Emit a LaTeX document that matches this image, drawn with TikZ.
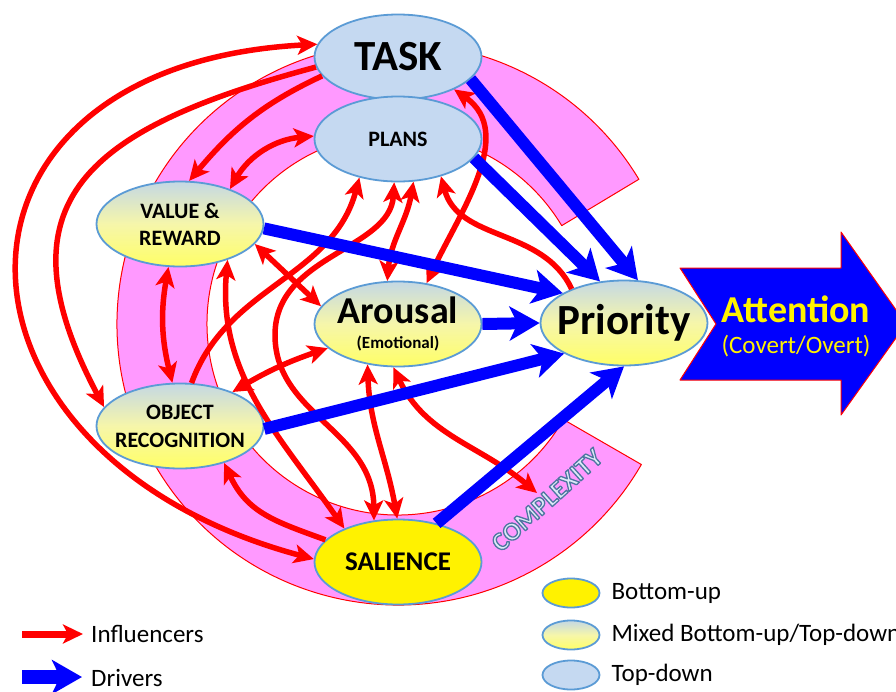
\documentclass[tikz,border=0pt]{standalone}
\usepackage{fontspec}
\setmainfont{Carlito}
\usetikzlibrary{arrows.meta,calc,positioning,shapes.geometric}

\definecolor{bandpink}{RGB}{255,153,255}
\definecolor{drvblue}{RGB}{0,0,255}
\definecolor{inflred}{RGB}{255,0,0}
\definecolor{tdblue}{RGB}{197,217,241}
\definecolor{rimblue}{RGB}{91,155,213}
\definecolor{mixtop}{RGB}{196,216,228}
\definecolor{mixmid}{RGB}{246,246,170}
\definecolor{mixbot}{RGB}{255,255,102}
\definecolor{cplxfill}{RGB}{221,234,247}
\definecolor{cplxrim}{RGB}{80,118,160}

\tikzset{
  redtip/.tip={Stealth[length=20pt,width=19pt,inset=5pt]},
  bluetip/.tip={Stealth[length=30pt,width=34pt,inset=8pt]},
  infl/.style={draw=inflred, line width=5.5pt, -redtip},
  infl2/.style={draw=inflred, line width=5.5pt, redtip-redtip},
  drv/.style={draw=drvblue, line width=12pt, -bluetip},
  stage/.style={ellipse, draw=rimblue, line width=1.8pt, minimum width=167pt,
    minimum height=85pt, inner sep=-12pt, align=center},
  topdown/.style={stage, fill=tdblue},
  bottomup/.style={stage, fill=yellow},
  mixed/.style={stage, top color=mixtop, bottom color=mixbot, middle color=mixmid},
  legtxt/.style={inner sep=0pt, font=\fontsize{25}{25}\selectfont}
}

\begin{document}
\begin{tikzpicture}[x=1pt, y=1pt, line join=round]
  \useasboundingbox (0,0) rectangle (896,-691);
  \clip (0,0) rectangle (896,-691);
  \fill[white] (0,0) rectangle (896,-691);

  % --- complexity band ---
  \coordinate (bc) at (398,-324);
  \filldraw[fill=bandpink, draw=inflred, line width=1pt]
    ($(bc)+(31:281pt)$) arc[start angle=31, end angle=330, radius=281pt]
    -- ($(bc)+(330:191pt)$) arc[start angle=330, end angle=31, radius=191pt] -- cycle;
  \coordinate (cplx) at (537,-493);

  % --- stages ---
  \node[topdown, font=\bfseries\fontsize{43}{43}\selectfont] (task) at (398,-57) {TASK};
  \node[topdown, font=\bfseries\fontsize{22}{22}\selectfont] (plans) at (398,-139) {PLANS};
  \node[mixed, font=\bfseries\fontsize{22}{27}\selectfont] (value) at (180,-224) {VALUE \&\\REWARD};
  \node[mixed, font=\bfseries\fontsize{22}{28}\selectfont] (objrec) at (180,-426) {OBJECT\\RECOGNITION};
  \node[mixed, font=\bfseries\fontsize{17}{25}\selectfont] (arousal) at (398,-324)
       {{\fontsize{38}{38}\selectfont Arousal}\\(Emotional)};
  \node[mixed, font=\bfseries\fontsize{43}{43}\selectfont] (priority) at (624,-323) {Priority};
  \node[bottomup, font=\bfseries\fontsize{27}{27}\selectfont] (salience) at (398,-562) {SALIENCE};

  % --- influencers ---
  \draw[infl2] (task.171) to[out=183, in=165, looseness=2] (salience.178);
  \draw[infl] (task.187) to[out=195, in=118, looseness=1.5] (objrec.166);
  \draw[infl] (task.194) to[out=205, in=50] (value.78);
  \draw[infl2] (plans.178) to[out=185, in=60] (value.35);
  \draw[infl2] (value.-105) to[bend right=12] (objrec.100);
  \draw[infl2] (value.-15) -- (arousal.167);
  \draw[infl2] (objrec.33) to[bend left=6] (arousal.199);
  \draw[infl] (salience.163) to[out=160, in=-65, looseness=1.1] (objrec.-40);
  \draw[infl2] (value.-37) to[out=-95, in=125] (salience.148);
  \draw[infl2] (plans.-95) .. controls (390,-250) and (275,-255) .. (275,-335)
        .. controls (275,-415) and (373,-430) .. (salience.120);
  \draw[infl2] (arousal.-127) to[out=-88, in=100] (salience.91);
  \draw[infl2] (arousal.-96) to[out=-65, in=140] (cplx);
  \draw[infl] (objrec.75) to[out=70, in=-105] (plans.-135);
  \draw[infl2] (plans.-70) to[out=-100, in=85] (arousal.104);
  \draw[infl] (priority.147) to[out=115, in=-75] (plans.-41);
  \draw[infl2] (task.-30) to[out=-35, in=65] (arousal.55);

  % --- drivers ---
  \draw[drv] (task.-17) -- (priority.72);
  \draw[drv] (plans.-14) -- (priority.120);
  \draw[drv] (value.-3) -- (priority.154);
  \draw[drv] (arousal.east) -- (priority.west);
  \draw[drv] (objrec.-2) -- (priority.207);
  \draw[drv] (salience.45) -- (priority.-90);

  % --- attention arrow ---
  \filldraw[fill=drvblue, draw=inflred, line width=1pt]
    (680,-268) -- (841,-268) -- (841,-232) -- (906,-324) -- (841,-415)
    -- (841,-380) -- (680,-380) -- (716,-324) -- cycle;
  \node[text=yellow, align=center, font=\fontsize{25}{31}\selectfont] (attn) at (796,-326.5)
       {{\bfseries\fontsize{38}{38}\selectfont Attention}\\(Covert/Overt)};

  % complexity label, outlined letters
  \node[rotate=42, text=cplxrim, font=\bfseries\fontsize{26}{26}\selectfont] (cplxtxt) at (547,-500)
       {\color{cplxfill}\special{pdf:literal direct 2 Tr 1.3 w 0.31 0.46 0.63 RG}COMPLEXITY\special{pdf:literal direct 0 Tr}};

  % --- legend ---
  \coordinate (infl0) at (22,-634);
  \coordinate (infl1) at (83,-634);
  \draw[infl, line width=7pt] (infl0) -- (infl1);
  \node[legtxt, right=8pt of infl1] (infltxt) {Influencers};
  \coordinate (drv0) at (22,-677);
  \coordinate (drv1) at (82,-677);
  \draw[drv, line width=14pt] (drv0) -- (drv1);
  \node[legtxt, right=9pt of drv1, yshift=-1pt] (drvtxt) {Drivers};

  \node[bottomup, minimum width=57pt, minimum height=29pt] (lgbu) at (571,-593) {};
  \node[mixed, minimum width=57pt, minimum height=29pt] (lgmix) at (571,-635) {};
  \node[topdown, minimum width=57pt, minimum height=29pt] (lgtd) at (571,-675) {};
  \node[legtxt, right=11pt of lgbu] (lgbutxt) {Bottom-up};
  \node[legtxt, right=11pt of lgmix] (lgmixtxt) {Mixed Bottom-up/Top-down};
  \node[legtxt, right=11pt of lgtd] (lgtdtxt) {Top-down};
\end{tikzpicture}
\end{document}
